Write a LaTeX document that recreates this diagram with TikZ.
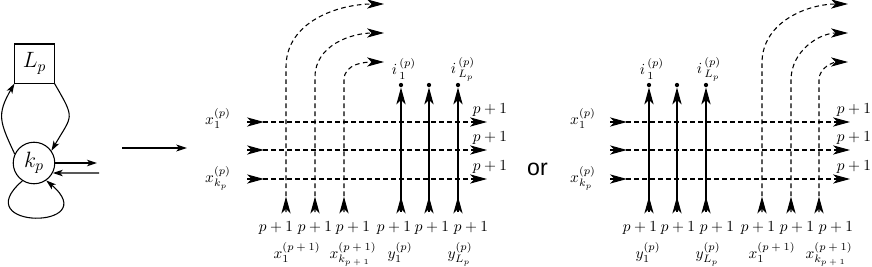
\documentclass[tikz,border=0pt]{standalone}
\usepackage{fontspec}
\newfontfamily\orfont{Liberation Sans}
\usetikzlibrary{arrows.meta,decorations.markings}
\begin{document}
\begin{tikzpicture}[x=0.65pt,y=0.65pt,
  >={Stealth[length=11pt,width=6pt,inset=3pt]},
  smalltip/.tip={Stealth[length=6.5pt,width=4.2pt,inset=1.8pt]},
  dline/.style={line width=0.7pt,dash pattern=on 3pt off 2.2pt},
  sline/.style={line width=0.7pt},
  startmark/.style={postaction={decorate},decoration={markings,mark=at position #1 with {\arrow{>}}}},
  lbl/.style={inner sep=0pt,anchor=base},
  dotnode/.style={circle,fill,inner sep=0pt,minimum size=2.8pt},
]
\useasboundingbox (0,0) rectangle (872,-267);

% ---------- left graph ----------
\node[draw,sline,minimum size=25.4pt,inner sep=0pt,font=\Large] (L) at (34.5,-63.5) {$L_p$};
\node[draw,sline,circle,minimum size=27pt,inner sep=0pt,font=\Large] (k) at (34,-163) {$k_p$};
\draw[sline,-{smalltip}] (k.155) to[out=115,in=-120,looseness=1.3] (L.south west);
\draw[sline,-{smalltip}] (L.south east) to[out=-60,in=60,looseness=1.6] (k.35);
\draw[sline,-{smalltip}] (k.237) .. controls (-35,-230) and (105,-230) .. (k.-55);
\coordinate (ko) at (97,-163);
\coordinate (ki) at (99,-173);
\draw[sline,-{smalltip}] (k.east) -- (ko);
\draw[sline,-{smalltip}] (ki) -- (k.-28);
\coordinate (bas) at (122,-148);
\coordinate (bae) at (187,-148);
\draw[sline,-{Stealth[length=7pt,width=4.5pt,inset=1.8pt]}] (bas) -- (bae);

% ---------- middle panel ----------
\foreach \y/\n in {122/1,150/2,179/3} {
  \coordinate (mhs\n) at (247,-\y);
  \coordinate (mhe\n) at (487,-\y);
  \draw[dline,startmark=11pt,->] (mhs\n) -- (mhe\n);
}
\foreach \x/\t/\ex/\ey/\n in {286/67/384/4/1, 315/77/384/33/2, 344/80/384/62/3} {
  \coordinate (mvb\n) at (\x,-212);
  \coordinate (mvk\n) at (\x,-\t);
  \coordinate (mve\n) at (\ex,-\ey);
  \draw[dline,startmark=10pt,->] (mvb\n) -- (mvk\n) to[out=90,in=180] (mve\n);
}
\foreach \x/\n in {401/1,429/2,458/3} {
  \coordinate (msb\n) at (\x,-212);
  \node[dotnode] (msd\n) at (\x,-85) {};
  \draw[sline,startmark=10pt,->] (msb\n) -- (msd\n);
}
\node[lbl] (mx1) at (218,-124) {$x_1^{(p)}$};
\node[lbl] (mxk) at (218,-182) {$x_{k_p}^{(p)}$};
\foreach \y/\n in {113/1,141.5/2,170/3} {
  \node[lbl] (mr\n) at (490,-\y) {$p+1$};
}
\node (mi1) at (404,-69) {$i^{\,(p)}_{\,1}$};
\node (mi2) at (463,-69) {$i^{\,(p)}_{\,L_p}$};
\foreach \x/\n in {276/1,315/2,353/3,394/4,432/5,471/6} {
  \node[lbl] (mb\n) at (\x,-231) {$p+1$};
}
\node[lbl] (mn1) at (297,-258) {$x_1^{(p\:+\:1)}$};
\node[lbl] (mn2) at (353,-258) {$x_{k_{p\:+\:1}}^{(p\:+\:1)}$};
\node[lbl] (mn3) at (400,-258) {$y_1^{(p)}$};
\node[lbl] (mn4) at (460,-258) {$y_{L_p}^{(p)}$};

\node[lbl,font=\orfont\fontsize{15}{18}\selectfont] (or) at (537.5,-175) {or};

% ---------- right panel ----------
\foreach \y/\n in {122/1,150/2,179/3} {
  \coordinate (rhs\n) at (610,-\y);
  \coordinate (rhe\n) at (850,-\y);
  \draw[dline,startmark=11pt,->] (rhs\n) -- (rhe\n);
}
\foreach \x/\n in {649/1,677/2,706/3} {
  \coordinate (rsb\n) at (\x,-212);
  \node[dotnode] (rsd\n) at (\x,-85) {};
  \draw[sline,startmark=10pt,->] (rsb\n) -- (rsd\n);
}
\foreach \x/\t/\ex/\ey/\n in {762/63/848/4/1, 791/80/848/33/2, 819/80/848/62/3} {
  \coordinate (rvb\n) at (\x,-212);
  \coordinate (rvk\n) at (\x,-\t);
  \coordinate (rve\n) at (\ex,-\ey);
  \draw[dline,startmark=10pt,->] (rvb\n) -- (rvk\n) to[out=90,in=180] (rve\n);
}
\node[lbl] (rx1) at (583,-124) {$x_1^{(p)}$};
\node[lbl] (rxk) at (583,-182) {$x_{k_p}^{(p)}$};
\foreach \y/\n in {113/1,141.5/2,170/3} {
  \node[lbl] (rr\n) at (854,-\y) {$p+1$};
}
\node (ri1) at (652,-69) {$i^{\,(p)}_{\,1}$};
\node (ri2) at (709,-69) {$i^{\,(p)}_{\,L_p}$};
\foreach \x/\n in {640/1,678/2,717/3,758/4,797/5,836/6} {
  \node[lbl] (rb\n) at (\x,-231) {$p+1$};
}
\node[lbl] (rn1) at (648,-258) {$y_1^{(p)}$};
\node[lbl] (rn2) at (708,-258) {$y_{L_p}^{(p)}$};
\node[lbl] (rn3) at (772,-258) {$x_1^{(p\:+\:1)}$};
\node[lbl] (rn4) at (829,-258) {$x_{k_{p\:+\:1}}^{(p\:+\:1)}$};
\end{tikzpicture}
\end{document}
